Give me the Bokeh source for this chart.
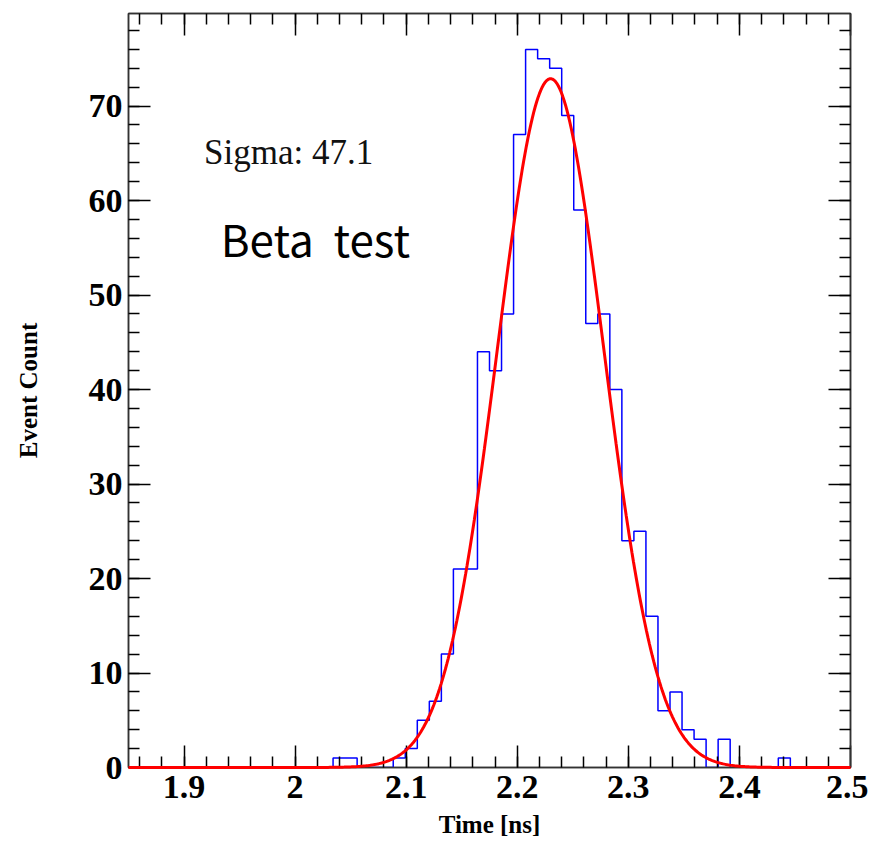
import numpy as np
from bokeh.plotting import figure
from bokeh.models import (Range1d, FixedTicker, LinearAxis, Label,
                          CustomJSTickFormatter)
from bokeh.embed import file_html
from bokeh.resources import INLINE

# ---- data ----
x_min, x_max = 1.85, 2.5
n_bins = 60
counts = [0, 0, 0, 0, 0, 0, 0, 0, 0, 0,
          0, 0, 0, 0, 0, 0, 0, 1, 1, 0,
          0, 0, 1, 2, 5, 7, 12, 21, 21, 44,
          42, 48, 67, 76, 75, 74, 69, 59, 47, 48,
          40, 24, 25, 16, 6, 8, 4, 3, 0, 3,
          0, 0, 0, 0, 1, 0, 0, 0, 0, 0]
fit_const = 72.9
fit_mean = 2.23
fit_sigma = 0.048
x_ticks = [1.9, 2.0, 2.1, 2.2, 2.3, 2.4, 2.5]
y_ticks = [0, 10, 20, 30, 40, 50, 60, 70]
y_max = 79.8

edges = np.linspace(x_min, x_max, n_bins + 1)
step_y = list(counts) + [0]
fx = np.linspace(x_min, x_max, 500)
fy = fit_const * np.exp(-0.5 * ((fx - fit_mean) / fit_sigma) ** 2)

p = figure(width=868, height=840, output_backend="svg", toolbar_location=None,
           x_range=Range1d(x_min, x_max), y_range=Range1d(0, y_max),
           min_border_left=128, min_border_right=18, min_border_top=13,
           min_border_bottom=72, x_axis_location=None, y_axis_location=None)
p.grid.visible = False
p.outline_line_color = "#333333"
p.outline_line_width = 1.5
p.background_fill_color = "white"
p.border_fill_color = "white"

x_minor = [round(v, 3) for v in np.arange(1.86, 2.5, 0.02)]
y_minor = [v for v in range(2, 80, 2)]
xt = FixedTicker(ticks=x_ticks, minor_ticks=x_minor)
yt = FixedTicker(ticks=y_ticks, minor_ticks=y_minor)
fmt_x = CustomJSTickFormatter(code="return (Math.round(tick*10)/10).toString();")
blank = CustomJSTickFormatter(code="return '';")

def style(ax, labels=True):
    ax.axis_line_color = "#333333"
    ax.axis_line_width = 1.5
    ax.major_tick_in = 22
    ax.major_tick_out = 0
    ax.minor_tick_in = 11
    ax.minor_tick_out = 0
    ax.major_tick_line_color = "black"
    ax.minor_tick_line_color = "black"
    ax.major_tick_line_width = 1.5
    ax.minor_tick_line_width = 1.5
    ax.major_label_text_font = "Liberation Serif"
    ax.major_label_text_font_style = "bold"
    ax.major_label_text_font_size = "34px"
    ax.major_label_text_color = "black"
    ax.axis_label_text_font = "Liberation Serif"
    ax.axis_label_text_font_style = "bold"
    ax.axis_label_text_font_size = "25px"
    ax.axis_label_text_color = "black"
    if not labels:
        ax.formatter = blank
        ax.major_label_standoff = 0

xb = LinearAxis(ticker=xt, formatter=fmt_x, axis_label="Time [ns]")
style(xb)
xb.major_label_standoff = 8
xb.axis_label_standoff = 10
p.add_layout(xb, "below")

yl = LinearAxis(ticker=yt, axis_label="Event Count")
style(yl)
yl.major_label_standoff = 6
yl.axis_label_standoff = 44
p.add_layout(yl, "left")

xa = LinearAxis(ticker=xt)
style(xa, labels=False)
p.add_layout(xa, "above")
yr = LinearAxis(ticker=yt)
style(yr, labels=False)
p.add_layout(yr, "right")

p.step(x=edges, y=step_y, mode="after", line_color="#0000ff", line_width=1.5)
p.line(fx, fy, line_color="#ff0000", line_width=3, level="overlay")

p.add_layout(Label(x=1.918, y=65.1, text="Sigma: 47.1", text_font="Liberation Serif",
                   text_font_size="35px", text_baseline="middle", text_color="#111111"))
p.add_layout(Label(x=1.933, y=56.0, text="Beta \u00a0test", text_font="Noto Sans CJK SC",
                   text_font_size="44px", text_baseline="middle", text_color="black"))

open("out.html", "w").write(file_html(p, INLINE))
